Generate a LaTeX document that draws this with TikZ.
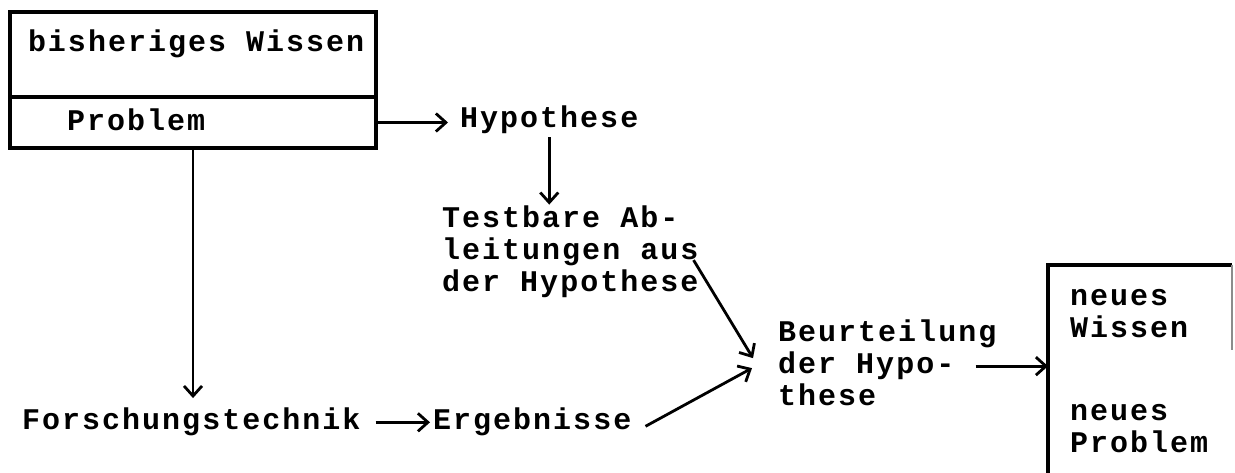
\documentclass[tikz,border=0pt]{standalone}
\usepackage{fontspec}
\newfontfamily\maschine{Liberation Mono}[LetterSpace=6.7]
\newcommand\schrift{\maschine\bfseries\fontsize{30}{32}\selectfont}
\usetikzlibrary{arrows.meta,positioning}
\tikzset{
  kasten/.style={draw, line width=3.2pt, inner sep=0pt, outer sep=0pt, anchor=north west},
  pfeil/.style={->, line width=2.8pt},
  mehrzeilig/.style={align=left, anchor=north west}
}

\begin{document}
\begin{tikzpicture}[x=1pt, y=1pt, >={Straight Barb[length=10pt,width=18pt]}, every node/.style={font=\schrift, inner sep=0pt}]
\useasboundingbox (0,0) rectangle (1235,473);
% linker Kasten
\node[kasten, inner xsep=18pt, text height=40pt, text depth=45pt] (wissen) at (10,461) {\makebox[330pt][l]{bisheriges Wissen}};
\node[kasten, below=0pt of wissen, text height=34pt, text depth=17pt] (problem) {\makebox[366pt][l]{\hspace*{57pt}Problem}};

% Texte
\node[anchor=base west] (hypo) at (460,345) {Hypothese};
\node[mehrzeilig] (ableit) at (442,268.4) {\strut Testbare Ab-\\leitungen aus\\der Hypothese};
\node[anchor=base west] (forsch) at (22,43) {Forschungstechnik};
\node[anchor=base west] (ergeb) at (433,43) {Ergebnisse};
\node[mehrzeilig] (beurt) at (778,154.4) {\strut Beurteilung\\der Hypo-\\these};
\node[mehrzeilig] (neuwissen) at (1070,190.4) {\strut neues\\Wissen};
\node[mehrzeilig] (neuproblem) at (1070,75.4) {\strut neues\\Problem};

% rechter Kasten, unten offen
\coordinate (neuol) at (1048,208);
\draw[line width=3.2pt] (1048,0) -- (neuol) -- (1232,208);
\draw[line width=1.2pt, black!45] (1232,208) -- (1232,123);

% Pfeile
\draw[pfeil] (problem.east) -- ([xshift=-12pt]hypo.west |- problem.east);
\draw[pfeil, shorten <=3pt] (hypo.south) -- (hypo.south |- ableit.north);
\draw[pfeil, shorten >=10pt] (problem.south) -- (problem.south |- forsch.north);
\draw[pfeil, shorten <=15pt, shorten >=3pt] (forsch.east) -- (ergeb.west);
\draw[pfeil] ([xshift=-5pt,yshift=-9pt]ableit.east) -- ([xshift=-25pt,yshift=4pt]beurt.west);
\draw[pfeil] ([xshift=14pt,yshift=-4pt]ergeb.east) -- ([xshift=-26pt,yshift=-6pt]beurt.west);
\draw[pfeil] ([xshift=-21pt,yshift=-4pt]beurt.east) -- ([yshift=-4pt]beurt.east -| neuol);
\end{tikzpicture}
\end{document}
